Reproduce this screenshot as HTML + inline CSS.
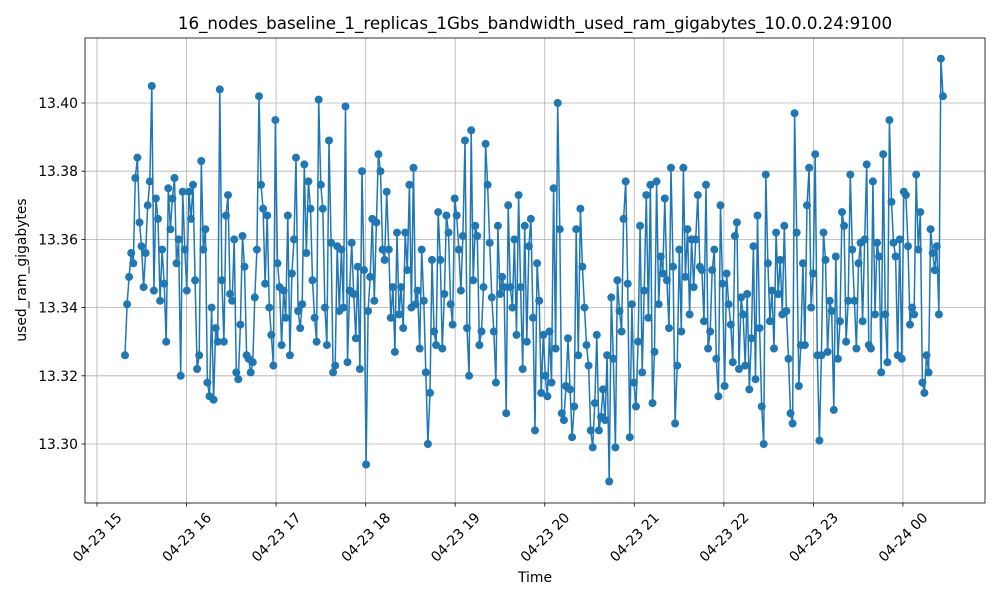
<!DOCTYPE html>
<html><head><meta charset="utf-8"><style>
body{margin:0;background:#fff}
svg text{font-family:"DejaVu Sans","Liberation Sans",sans-serif;fill:#000}
</style></head><body>
<svg id="chart" width="1000" height="600" xmlns="http://www.w3.org/2000/svg">
<rect width="1000" height="600" fill="#fff"/>
<g id="grid"></g>
<g id="series"></g>
<rect x="85" y="38" width="900" height="465" fill="none" stroke="#000" stroke-width="0.8"/>
<g id="axes"></g>
<text x="535" y="29" text-anchor="middle" font-size="16.7">16_nodes_baseline_1_replicas_1Gbs_bandwidth_used_ram_gigabytes_10.0.0.24:9100</text>
<text x="535" y="582" text-anchor="middle" font-size="13.9">Time</text>
<text transform="translate(26,270) rotate(-90)" text-anchor="middle" font-size="13.9">used_ram_gigabytes</text>
</svg>
<script>
const yTicks=[13.30,13.32,13.34,13.36,13.38,13.40];
const xTickHours=[15,16,17,18,19,20,21,22,23,24];
const xTickLabels=["04-23 15","04-23 16","04-23 17","04-23 18","04-23 19","04-23 20","04-23 21","04-23 22","04-23 23","04-24 00"];
const startHour=15.313, endHour=24.447;
const values=[13.326,13.341,13.349,13.356,13.353,13.378,13.384,13.365,13.358,13.346,13.356,13.370,13.377,13.405,13.345,13.372,13.366,13.342,13.357,13.347,13.330,13.375,13.363,13.372,13.378,13.353,13.360,13.320,13.374,13.357,13.345,13.374,13.366,13.376,13.348,13.322,13.326,13.383,13.357,13.363,13.318,13.314,13.340,13.313,13.334,13.330,13.404,13.348,13.330,13.367,13.373,13.344,13.342,13.360,13.321,13.319,13.335,13.361,13.352,13.326,13.325,13.321,13.324,13.343,13.357,13.402,13.376,13.369,13.347,13.367,13.340,13.332,13.323,13.395,13.353,13.346,13.329,13.345,13.337,13.367,13.326,13.350,13.360,13.384,13.339,13.334,13.341,13.382,13.356,13.377,13.369,13.348,13.337,13.330,13.401,13.376,13.369,13.340,13.329,13.389,13.359,13.321,13.323,13.358,13.339,13.357,13.340,13.399,13.324,13.345,13.359,13.344,13.331,13.352,13.322,13.380,13.351,13.294,13.339,13.349,13.366,13.342,13.365,13.385,13.380,13.357,13.354,13.374,13.357,13.337,13.346,13.327,13.362,13.338,13.346,13.334,13.362,13.351,13.376,13.340,13.381,13.341,13.345,13.328,13.357,13.342,13.321,13.300,13.315,13.354,13.333,13.329,13.368,13.354,13.328,13.344,13.367,13.362,13.341,13.335,13.372,13.367,13.357,13.345,13.361,13.389,13.334,13.320,13.392,13.348,13.364,13.361,13.329,13.333,13.346,13.388,13.376,13.359,13.343,13.333,13.318,13.364,13.344,13.349,13.346,13.309,13.370,13.346,13.340,13.360,13.332,13.373,13.346,13.322,13.364,13.330,13.358,13.366,13.337,13.304,13.353,13.342,13.315,13.332,13.320,13.314,13.333,13.318,13.375,13.328,13.400,13.363,13.309,13.307,13.317,13.331,13.316,13.302,13.311,13.363,13.326,13.369,13.352,13.340,13.329,13.323,13.304,13.299,13.312,13.332,13.304,13.308,13.316,13.307,13.326,13.289,13.343,13.325,13.299,13.348,13.339,13.333,13.366,13.377,13.347,13.302,13.341,13.318,13.311,13.330,13.364,13.321,13.345,13.373,13.337,13.376,13.312,13.327,13.377,13.341,13.355,13.350,13.372,13.348,13.334,13.381,13.352,13.306,13.323,13.357,13.333,13.381,13.349,13.363,13.338,13.360,13.346,13.360,13.373,13.352,13.351,13.336,13.376,13.328,13.333,13.351,13.357,13.325,13.314,13.370,13.347,13.317,13.350,13.341,13.335,13.324,13.361,13.365,13.322,13.343,13.338,13.323,13.344,13.316,13.331,13.358,13.319,13.367,13.334,13.311,13.300,13.379,13.353,13.336,13.345,13.328,13.362,13.344,13.354,13.338,13.364,13.339,13.325,13.309,13.306,13.397,13.362,13.317,13.329,13.353,13.329,13.370,13.381,13.340,13.350,13.385,13.326,13.301,13.326,13.362,13.354,13.327,13.342,13.339,13.310,13.355,13.325,13.336,13.368,13.364,13.330,13.342,13.379,13.357,13.342,13.328,13.353,13.359,13.336,13.360,13.382,13.329,13.328,13.377,13.338,13.359,13.355,13.321,13.385,13.338,13.324,13.395,13.371,13.359,13.355,13.326,13.360,13.325,13.374,13.373,13.358,13.335,13.340,13.338,13.379,13.357,13.368,13.318,13.315,13.326,13.321,13.363,13.356,13.351,13.358,13.338,13.413,13.402];

const NS="http://www.w3.org/2000/svg";
function xScale(h){return 97+(h-15)*89.55;}
function yScale(v){return 444-(v-13.30)*3410;}
function mk(tag,attrs,parent){const e=document.createElementNS(NS,tag);for(const k in attrs)e.setAttribute(k,attrs[k]);parent.appendChild(e);return e;}
const grid=document.getElementById('grid'),axes=document.getElementById('axes'),series=document.getElementById('series');
yTicks.forEach(t=>{const y=yScale(t);
 const g=mk('line',{x1:85,x2:985,y1:y,y2:y,stroke:'#b0b0b0','stroke-width':0.8},grid);
 
 
 mk('line',{x1:81.5,x2:85,y1:y,y2:y,stroke:'#000','stroke-width':0.8},axes);
 const tx=mk('text',{x:78,y:y+5,'text-anchor':'end','font-size':13.9},axes);tx.textContent=t.toFixed(2);
 
 
});
xTickHours.forEach((h,i)=>{const x=xScale(h);
 const g=mk('line',{x1:x,x2:x,y1:38,y2:503,stroke:'#b0b0b0','stroke-width':0.8},grid);
 
 
 mk('line',{x1:x,x2:x,y1:503,y2:506.5,stroke:'#000','stroke-width':0.8},axes);
 const tx=mk('text',{transform:`translate(${x},${537}) rotate(-45)`,'text-anchor':'middle',dy:5,'font-size':13.9},axes);tx.textContent=xTickLabels[i];
 
 
});
const n=values.length;
const pts=values.map((v,i)=>[xScale(startHour+(endHour-startHour)*i/(n-1)),yScale(v)]);
const line=mk('polyline',{points:pts.map(p=>p[0].toFixed(1)+','+p[1].toFixed(1)).join(' '),fill:'none',stroke:'#1f77b4','stroke-width':1.5,'stroke-linejoin':'round'},series);


pts.forEach(p=>{const c=mk('circle',{cx:p[0].toFixed(1),cy:p[1].toFixed(1),r:4,fill:'#1f77b4'},series);
 
 
});
</script>
</body></html>
